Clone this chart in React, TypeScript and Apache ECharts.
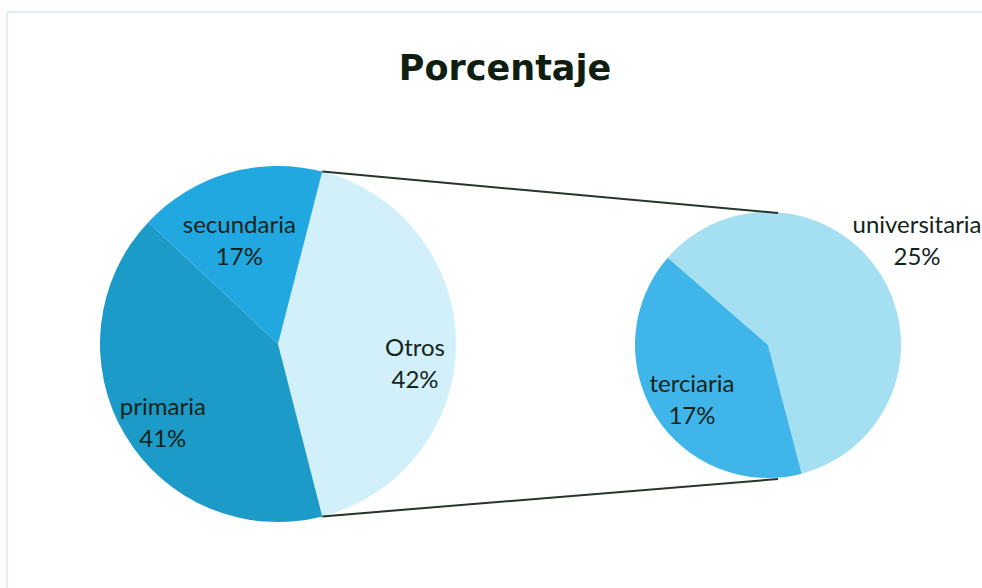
import React, { useEffect, useRef } from "react";
import * as echarts from "echarts";

const mainNames = ["Otros", "primaria", "secundaria"];
const mainValues = [0, 41, 17]; // Otros computed from secondary values
const subNames = ["universitaria", "terciaria"];
const subValues = [25, 17];

const mainColors = ["#d2f0fa", "#1c9ac8", "#22a8e0"];
const subColors = ["#a4e0f1", "#40b5ea"];

const mainLabelOffsets = [[45, 18], [-36, 31], [-13, -16]];
const subLabelOffsets = [[90, -69], [-17, 17]];

export default function App() {
  const ref = useRef<HTMLDivElement>(null);
  useEffect(() => {
    document.body.style.margin = "0";
    if (!ref.current) return;
    const chart = echarts.init(ref.current, undefined, { renderer: "svg" });

    const otros = subValues.reduce((a, b) => a + b, 0);
    const mValues = mainValues.slice();
    mValues[0] = otros;
    const total = mValues.reduce((a, b) => a + b, 0);

    const c1 = [278, 344];
    const r1 = 178;
    const c2 = [768, 345];
    const r2 = 133;

    const half = (otros / total) * Math.PI;
    const theta = Math.PI / 2 - half;
    const topStart = [c1[0] + r1 * Math.sin(theta), c1[1] - r1 * Math.cos(theta)];
    const botStart = [c1[0] + r1 * Math.sin(Math.PI - theta), c1[1] - r1 * Math.cos(Math.PI - theta)];
    const topEnd = [c2[0] + 10, c2[1] - r2 + 1];
    const botEnd = [c2[0] + 10, c2[1] + r2 + 1];

    const startMain = 90 - (theta * 180) / Math.PI;
    const subTotal = subValues.reduce((a, b) => a + b, 0);
    const startSub = 90 - 165.3 + (subValues[0] / subTotal) * 360;

    const labelStyle = {
      show: true,
      position: "inside" as const,
      formatter: "{b}\n{c}%",
      fontFamily: "Lato",
      fontSize: 24,
      lineHeight: 32,
      color: "#14241a",
      align: "center" as const,
    };

    chart.setOption({
      animation: false,
      backgroundColor: "#ffffff",
      title: {
        text: "Porcentaje",
        left: 500,
        top: 45,
        textAlign: "center",
        textStyle: {
          fontFamily: "DejaVu Sans",
          fontWeight: "bold",
          fontSize: 35,
          color: "#0e1e10",
        },
      },
      graphic: [
        {
          type: "rect",
          shape: { x: 7, y: 12, width: 1000, height: 620 },
          style: { fill: "none", stroke: "#bfe3e3", lineWidth: 1 },
          silent: true,
        },
        {
          type: "line",
          shape: { x1: topStart[0], y1: topStart[1], x2: topEnd[0], y2: topEnd[1] },
          style: { stroke: "#25352a", lineWidth: 2 },
          z: 10,
        },
        {
          type: "line",
          shape: { x1: botStart[0], y1: botStart[1], x2: botEnd[0], y2: botEnd[1] },
          style: { stroke: "#25352a", lineWidth: 2 },
          z: 10,
        },
      ],
      series: [
        {
          type: "pie",
          center: c1,
          radius: r1,
          startAngle: startMain,
          clockwise: true,
          silent: true,
          label: labelStyle,
          labelLine: { show: false },
          data: mainNames.map((n, i) => ({
            name: n,
            value: mValues[i],
            itemStyle: { color: mainColors[i] },
            label: { offset: mainLabelOffsets[i] },
          })),
        },
        {
          type: "pie",
          center: c2,
          radius: r2,
          startAngle: startSub,
          clockwise: true,
          silent: true,
          label: labelStyle,
          labelLine: { show: false },
          data: subNames.map((n, i) => ({
            name: n,
            value: subValues[i],
            itemStyle: { color: subColors[i] },
            label: { offset: subLabelOffsets[i] },
          })),
        },
      ],
    });
    return () => chart.dispose();
  }, []);
  return <div ref={ref} style={{ width: 982, height: 588 }} />;
}
